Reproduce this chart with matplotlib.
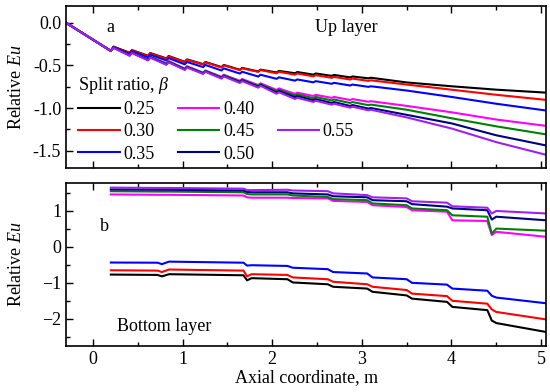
import matplotlib
matplotlib.use("Agg")
import matplotlib.pyplot as plt
from matplotlib.lines import Line2D
from matplotlib.ticker import MultipleLocator, FormatStrFormatter

plt.rcParams['font.family'] = ['Liberation Serif', 'DejaVu Serif']
plt.rcParams['mathtext.fontset'] = 'custom'
plt.rcParams['mathtext.rm'] = 'Liberation Serif'
plt.rcParams['mathtext.it'] = 'Liberation Serif:italic'
plt.rcParams['font.size'] = 13

labels = ['0.25', '0.30', '0.35', '0.40', '0.45', '0.50', '0.55']
colors = ['#000000', '#ff0000', '#0000ff', '#ff00ff', '#008000', '#000080', '#a020f0']

# ---- panel a: Up layer ----
x_top = [-0.30, 0.20, 0.23, 0.41, 0.435, 0.615, 0.64, 0.82, 0.845, 1.025, 1.05, 1.23, 1.255,
         1.435, 1.46, 1.64, 1.665, 1.845, 1.87, 2.05, 2.075, 2.255, 2.28, 2.46, 2.485, 2.665,
         2.69, 2.87, 2.895, 3.075, 3.10, 3.5, 4.0, 4.5, 5.06]
up_025 = [0.0, -0.33, -0.28, -0.352, -0.32, -0.387, -0.355, -0.418, -0.39, -0.458, -0.43, -0.485,
          -0.46, -0.52, -0.495, -0.551, -0.53, -0.571, -0.55, -0.583, -0.565, -0.592, -0.578,
          -0.609, -0.595, -0.623, -0.612, -0.641, -0.63, -0.652, -0.645, -0.70, -0.745, -0.785, -0.82]
up_030 = [0.0, -0.33, -0.285, -0.357, -0.325, -0.392, -0.36, -0.423, -0.395, -0.463, -0.435, -0.49,
          -0.465, -0.525, -0.50, -0.556, -0.535, -0.576, -0.555, -0.593, -0.575, -0.609, -0.595,
          -0.629, -0.615, -0.646, -0.635, -0.666, -0.655, -0.682, -0.675, -0.725, -0.785, -0.845, -0.905]
up_035 = [0.0, -0.33, -0.285, -0.367, -0.335, -0.407, -0.375, -0.443, -0.415, -0.488, -0.46, -0.52,
          -0.495, -0.56, -0.535, -0.596, -0.575, -0.631, -0.61, -0.658, -0.64, -0.679, -0.665,
          -0.699, -0.685, -0.716, -0.705, -0.736, -0.725, -0.752, -0.745, -0.795, -0.87, -0.95, -1.03]
up_040 = [0.0, -0.33, -0.29, -0.382, -0.35, -0.432, -0.40, -0.478, -0.45, -0.538, -0.51, -0.585,
          -0.56, -0.635, -0.61, -0.681, -0.66, -0.731, -0.71, -0.788, -0.77, -0.834, -0.82,
          -0.859, -0.845, -0.881, -0.87, -0.906, -0.895, -0.927, -0.92, -0.975, -1.05, -1.135, -1.21]
up_045 = [0.0, -0.33, -0.29, -0.382, -0.35, -0.432, -0.40, -0.483, -0.455, -0.543, -0.515, -0.59,
          -0.565, -0.64, -0.615, -0.691, -0.67, -0.741, -0.72, -0.803, -0.785, -0.854, -0.84,
          -0.884, -0.87, -0.911, -0.90, -0.941, -0.93, -0.967, -0.96, -1.02, -1.12, -1.215, -1.31]
up_050 = [0.0, -0.33, -0.29, -0.382, -0.35, -0.437, -0.405, -0.488, -0.46, -0.548, -0.52, -0.595,
          -0.57, -0.65, -0.625, -0.696, -0.675, -0.751, -0.73, -0.818, -0.80, -0.874, -0.86,
          -0.909, -0.895, -0.941, -0.93, -0.976, -0.965, -1.007, -1.0, -1.08, -1.18, -1.32, -1.44]
up_055 = [0.0, -0.33, -0.295, -0.387, -0.355, -0.442, -0.41, -0.493, -0.465, -0.553, -0.525, -0.60,
          -0.575, -0.655, -0.63, -0.706, -0.685, -0.761, -0.74, -0.833, -0.815, -0.894, -0.88,
          -0.929, -0.915, -0.961, -0.95, -0.996, -0.985, -1.027, -1.02, -1.11, -1.24, -1.40, -1.55]
up_series = [up_025, up_030, up_035, up_040, up_045, up_050, up_055]

# ---- panel b: Bottom layer ----
x_bot = [0.2, 0.72, 0.77, 0.85, 1.68, 1.72, 1.77, 2.17, 2.23, 2.62, 2.68, 3.06, 3.12, 3.50,
         3.56, 3.95, 4.01, 4.40, 4.45, 4.50, 5.06]
bot_025 = [-0.77, -0.78, -0.82, -0.76, -0.79, -0.93, -0.87, -0.90, -0.99, -1.04, -1.11, -1.16,
           -1.25, -1.35, -1.44, -1.53, -1.67, -1.76, -2.05, -2.12, -2.37]
bot_030 = [-0.65, -0.66, -0.70, -0.63, -0.66, -0.82, -0.76, -0.78, -0.85, -0.90, -0.97, -1.04,
           -1.11, -1.20, -1.30, -1.37, -1.50, -1.58, -1.74, -1.81, -2.02]
bot_035 = [-0.435, -0.44, -0.48, -0.41, -0.44, -0.52, -0.51, -0.53, -0.58, -0.62, -0.70, -0.74,
           -0.85, -0.90, -1.00, -1.05, -1.16, -1.22, -1.36, -1.41, -1.57]
bot_040 = [1.46, 1.45, 1.45, 1.45, 1.43, 1.38, 1.37, 1.37, 1.36, 1.35, 1.28, 1.25, 1.16, 1.11,
           1.02, 0.98, 0.74, 0.72, 0.33, 0.42, 0.28]
bot_045 = [1.55, 1.54, 1.54, 1.54, 1.52, 1.47, 1.46, 1.46, 1.43, 1.39, 1.33, 1.30, 1.21, 1.16,
           1.07, 1.02, 0.88, 0.84, 0.37, 0.51, 0.45]
bot_050 = [1.60, 1.59, 1.59, 1.59, 1.57, 1.53, 1.52, 1.52, 1.49, 1.46, 1.41, 1.38, 1.30, 1.27,
           1.19, 1.12, 1.07, 1.02, 0.76, 0.84, 0.74]
bot_055 = [1.65, 1.64, 1.64, 1.64, 1.62, 1.58, 1.58, 1.59, 1.57, 1.55, 1.49, 1.44, 1.38, 1.35,
           1.27, 1.23, 1.13, 1.09, 0.93, 1.00, 0.93]
bot_series = [bot_025, bot_030, bot_035, bot_040, bot_045, bot_050, bot_055]

fig = plt.figure(figsize=(5.5, 3.92), dpi=100)
ax1 = fig.add_axes([0.12, 0.5722, 0.8736, 0.4133])
ax2 = fig.add_axes([0.12, 0.1181, 0.8736, 0.4143])

handles = []
for ys, c, lab in zip(up_series, colors, labels):
    h, = ax1.plot(x_top, ys, color=c, lw=1.5, label=lab)
    handles.append(h)
for ys, c in zip(bot_series, colors):
    ax2.plot(x_bot, ys, color=c, lw=1.5)

for ax in (ax1, ax2):
    ax.set_xlim(-0.3, 5.06)
    ax.xaxis.set_major_locator(MultipleLocator(1))
    ax.xaxis.set_minor_locator(MultipleLocator(0.5))
    ax.tick_params(which='both', direction='in', top=True, right=False, width=1.0)
    ax.tick_params(which='major', length=5, labelsize=13)
    ax.tick_params(which='minor', length=3)
    for s in ax.spines.values():
        s.set_linewidth(1.2)
    ax.set_ylabel('Relative $Eu$', fontsize=13)
    ax.yaxis.set_label_coords(-0.085, 0.5)

ax1.set_ylim(-1.7, 0.2)
ax1.yaxis.set_major_locator(MultipleLocator(0.5))
ax1.yaxis.set_minor_locator(MultipleLocator(0.25))
ax1.tick_params(labelbottom=False)
ax1.yaxis.set_major_formatter(FormatStrFormatter('%.1f'))

ax2.set_ylim(-2.75, 1.77)
ax2.yaxis.set_major_locator(MultipleLocator(1))
ax2.yaxis.set_minor_locator(MultipleLocator(0.5))
ax2.set_xlabel('Axial coordinate, m', fontsize=13, labelpad=1)

blank = Line2D([], [], color='none')
order = [handles[0], handles[1], handles[2], handles[3], handles[4], handles[5],
         blank, handles[6], blank]
labs = ['0.25', '0.30', '0.35', '0.40', '0.45', '0.50', '', '0.55', '']
ax1.legend(order, labs, ncol=3, loc='upper left', bbox_to_anchor=(0.025, 0.57),
           frameon=False, title='Split ratio, $\\beta$', alignment='left',
           title_fontsize=13, fontsize=13, handlelength=2.3, handletextpad=0.2,
           columnspacing=1.3, labelspacing=0.28, borderpad=0, borderaxespad=0)

ax1.text(0.092, 0.868, 'a', transform=ax1.transAxes, ha='center', va='center', fontsize=13)
ax1.text(0.583, 0.868, 'Up layer', transform=ax1.transAxes, ha='center', va='center', fontsize=13)
ax2.text(0.081, 0.737, 'b', transform=ax2.transAxes, ha='center', va='center', fontsize=13)
ax2.text(0.106, 0.121, 'Bottom layer', transform=ax2.transAxes, ha='left', va='center', fontsize=13)

fig.savefig('out.png', dpi=100)
